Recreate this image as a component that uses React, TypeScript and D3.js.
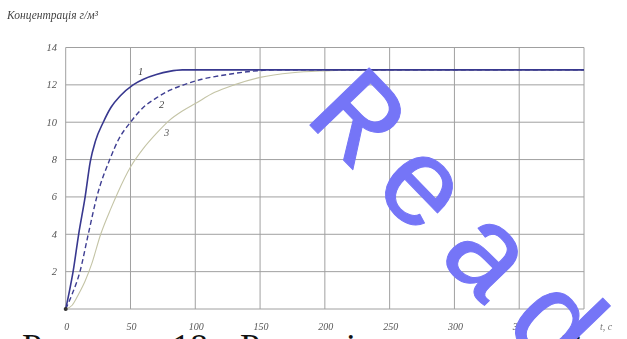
import React from "react";
import * as d3 from "d3";

// Concentration curves, time t (s) vs concentration (g/m³)
const curve1: [number, number][] = [
  [0, 0], [3, 1], [5.7, 2], [10, 4], [15, 6], [19, 7.9], [23, 9], [29, 10],
  [35, 10.8], [42, 11.4], [52, 12], [60, 12.3], [70, 12.55], [80, 12.72],
  [90, 12.8], [150, 12.8], [250, 12.8], [400, 12.8],
];
const curve2: [number, number][] = [
  [0, 0], [5, 0.8], [11, 2], [17.4, 4], [24, 6], [34, 8], [41, 9.1], [50, 10],
  [60, 10.8], [70, 11.3], [80, 11.7], [91, 12], [105, 12.3], [120, 12.5],
  [140, 12.7], [160, 12.8], [250, 12.8], [400, 12.8],
];
const curve3: [number, number][] = [
  [0, 0], [5, 0.2], [10, 0.8], [15, 1.5], [20, 2.4], [27, 4], [35, 5.4],
  [40, 6.2], [50, 7.6], [60, 8.6], [70, 9.4], [80, 10.1], [90, 10.6],
  [100, 11.0], [115, 11.6], [130, 12.0], [150, 12.4], [175, 12.65],
  [200, 12.75], [230, 12.8], [400, 12.8],
];
const xTicks = [0, 50, 100, 150, 200, 250, 300, 350, 400];
const yTicks = [2, 4, 6, 8, 10, 12, 14];
const curveLabels = ["1", "2", "3"];
const yTitle = "Концентрація г/м³";
const xUnit = "t, c";
const caption = ["Рисунок", "18", "–", "Розподіл концентрації"];
const watermark = "Read";

const W = 627;
const H = 339;

export default function App() {
  const x = d3.scaleLinear().domain([0, 400]).range([65.7, 584]);
  const y = d3.scaleLinear().domain([0, 14]).range([309, 47.5]);
  const line = d3
    .line<[number, number]>()
    .x((d) => x(d[0]))
    .y((d) => y(d[1]))
    .curve(d3.curveMonotoneX);

  const serif = "'Liberation Serif', 'DejaVu Serif', serif";
  const gridColor = "#a0a0a0";

  return (
    <svg
      width={W}
      height={H}
      style={{ position: "fixed", left: 0, top: 0, background: "#fff" }}
    >
      <rect width={W} height={H} fill="#fff" />
      <g style={{ filter: "blur(0.35px)" }}>
        {/* grid */}
        {yTicks.map((v) => (
          <line key={"gy" + v} x1={x(0)} x2={x(400)} y1={y(v)} y2={y(v)} stroke={gridColor} strokeWidth={1} />
        ))}
        {xTicks.map((v) => (
          <line key={"gx" + v} x1={x(v)} x2={x(v)} y1={y(0)} y2={y(14)} stroke={gridColor} strokeWidth={1} />
        ))}
        <line x1={x(0)} x2={x(400)} y1={y(0)} y2={y(0)} stroke={gridColor} strokeWidth={1} />

        {/* tick labels */}
        {yTicks.map((v) => (
          <text key={"ty" + v} x={57} y={y(v) + 3.5} textAnchor="end" fontFamily={serif} fontStyle="italic" fontSize={10.5} fill="#555">
            {v}
          </text>
        ))}
        {xTicks.map((v) => (
          <text key={"tx" + v} x={v === 400 ? x(v) - 6 : x(v) + 1} y={330} textAnchor="middle" fontFamily={serif} fontStyle="italic" fontSize={10} fill="#555">
            {v}
          </text>
        ))}
        <text x={600} y={330} fontFamily={serif} fontStyle="italic" fontSize={10} fill="#777">
          {xUnit}
        </text>
        <text x={7} y={19} fontFamily={serif} fontStyle="italic" fontSize={11.5} fill="#444">
          {yTitle}
        </text>

        {/* curves */}
        <path d={line(curve3) || ""} fill="none" stroke="#c4c4a6" strokeWidth={1.1} />
        <path d={line(curve2) || ""} fill="none" stroke="#3e3e92" strokeWidth={1.4} strokeDasharray="5,3" />
        <path d={line(curve1) || ""} fill="none" stroke="#38388f" strokeWidth={1.6} />
        <circle cx={x(0)} cy={y(0)} r={2} fill="#333" />

        {/* curve numbers */}
        <text x={138} y={75} fontFamily={serif} fontStyle="italic" fontSize={10.5} fill="#444">{curveLabels[0]}</text>
        <text x={159} y={108} fontFamily={serif} fontStyle="italic" fontSize={10.5} fill="#444">{curveLabels[1]}</text>
        <text x={164} y={136} fontFamily={serif} fontStyle="italic" fontSize={10.5} fill="#666">{curveLabels[2]}</text>
      </g>

      {/* caption, cut by the bottom edge */}
      <text y={359} fontFamily={serif} fontSize={36} fill="#111">
        <tspan x={22}>{caption[0]}</tspan>
        <tspan x={172}>{caption[1]}</tspan>
        <tspan x={215}>{caption[2]}</tspan>
        <tspan x={240}>{caption[3]}</tspan>
      </text>

      {/* watermark */}
      <text
        transform="translate(303,118) rotate(46)"
        fontFamily="'Liberation Mono', 'DejaVu Sans Mono', monospace"
        fontSize={125}
        letterSpacing={20}
        fill="#7575f7"
        stroke="#7575f7"
        strokeWidth={1}
        strokeLinejoin="round"
      >
        {watermark}
      </text>
    </svg>
  );
}
